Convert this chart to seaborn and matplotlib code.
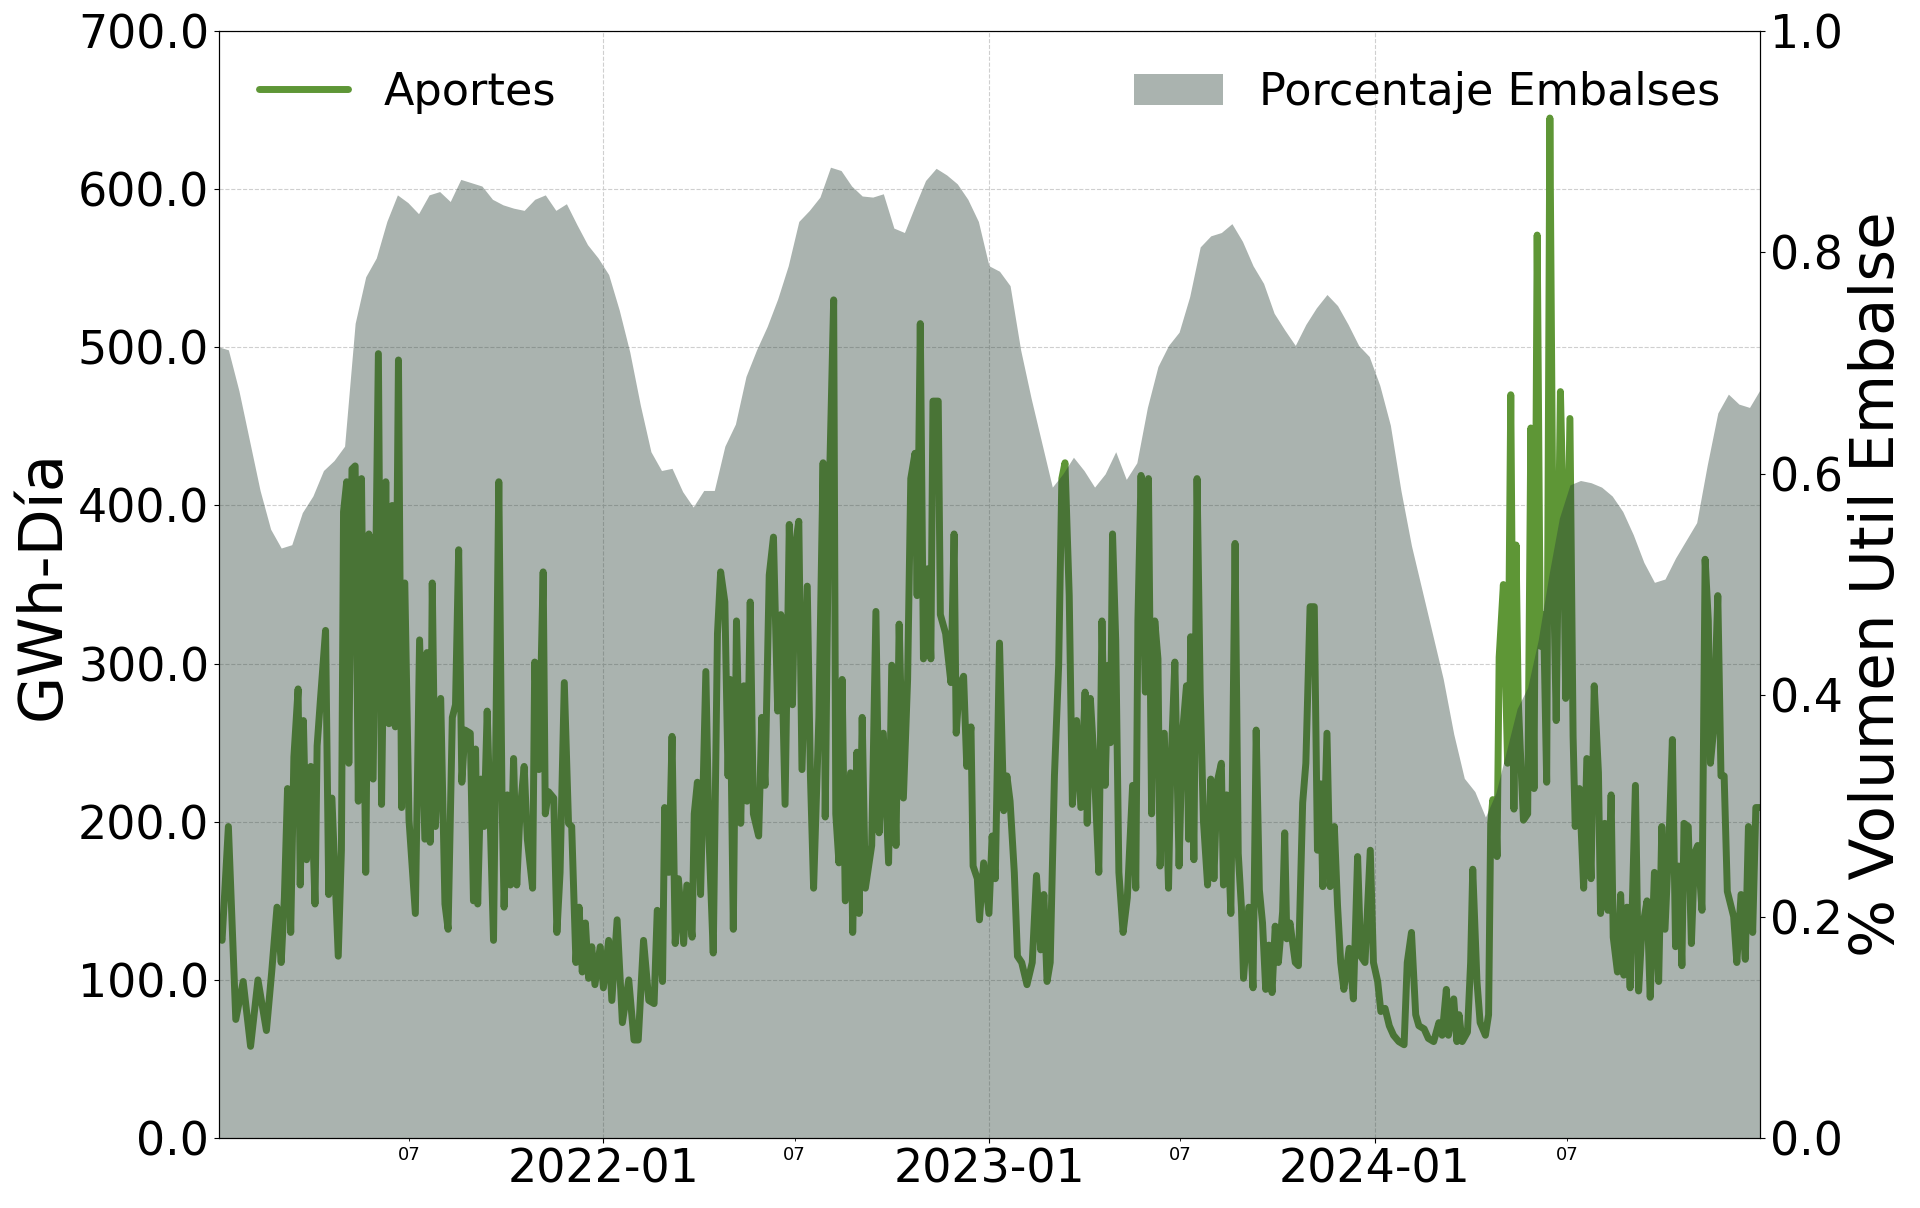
import matplotlib
matplotlib.use("Agg")
import matplotlib.pyplot as plt
import matplotlib.dates as mdates
from matplotlib.ticker import FormatStrFormatter, MultipleLocator
import seaborn as sns
import pandas as pd

inicio = pd.Timestamp("2021-01-01")

# aportes diarios (GWh-dia): dias desde 2021-01-01
dias_aportes = [
    1, 4, 10, 17, 24, 31, 38, 46, 51, 56, 60, 63, 66, 69, 72, 76, 78, 81, 84, 88,
    92, 94, 97, 102, 105, 108, 114, 117, 119, 122, 124, 127, 130, 133, 136, 140, 143, 147, 152, 155,
    159, 162, 165, 168, 171, 174, 177, 181, 187, 191, 196, 198, 201, 203, 206, 211, 215, 218, 222, 225,
    228, 231, 234, 239, 242, 244, 246, 249,
    252, 255, 258, 261, 266, 269, 271, 274, 277, 280, 283, 286, 290, 293, 298, 300, 304, 308, 310, 313,
    318, 321, 324, 328, 332, 335, 339, 342, 345, 348, 351, 354, 357, 362, 365, 370, 373, 378, 383, 389,
    394, 398, 403, 408, 413, 416, 421, 423, 427, 430, 433, 436, 441, 444, 449, 451, 454, 457, 462, 465,
    469, 473, 476, 480, 483, 485, 488, 491, 495,
    498, 501, 504, 507, 512, 515, 518, 522, 526, 530, 533, 537, 541, 544, 547, 550, 553, 558, 561, 564,
    569, 573, 575, 578, 583, 585, 588, 591, 594, 599, 601, 605, 607, 610, 613, 619, 623, 626, 630, 635,
    638, 642, 645, 649, 653, 656, 660, 662, 665, 668, 672, 675, 677, 682, 684, 689, 694, 697, 699, 702,
    706, 709, 713, 715, 719, 721, 725, 730, 733, 736,
    740, 744, 747, 750, 754, 757, 761, 766, 771, 775, 779, 782, 785, 788, 792, 796, 799, 802, 806, 809,
    813, 817, 821, 823, 826, 829, 834, 837, 840, 843, 845, 847, 850, 853, 857, 861, 866, 869, 871, 874,
    878, 881, 884, 887, 890, 892, 896, 900, 902, 906, 910, 913, 917, 919, 921, 924, 927, 930, 933, 937,
    940, 943, 946, 950, 952, 955, 959, 963, 966, 969, 971, 976, 980, 983,
    986, 989, 992, 995, 998, 1001, 1004, 1008, 1010, 1012, 1015, 1020, 1023, 1027, 1030, 1034, 1038, 1041, 1044, 1046,
    1050, 1053, 1057, 1060, 1063, 1066, 1071, 1075, 1079, 1082, 1086, 1091, 1094, 1098, 1101, 1105, 1109, 1113, 1118, 1123,
    1126, 1130, 1134, 1137, 1142, 1146, 1151, 1156, 1159, 1163, 1165, 1170, 1173, 1175, 1178, 1183, 1186, 1188, 1192, 1195,
    1200, 1203, 1205, 1207, 1210, 1211, 1213, 1217, 1221, 1224, 1227, 1229, 1231,
    1233, 1236, 1240, 1243, 1246, 1249, 1252, 1255, 1258, 1261, 1264, 1267, 1271, 1274, 1276, 1280, 1283, 1285, 1289, 1293,
    1296, 1300, 1303, 1307, 1309, 1313, 1316, 1319, 1321, 1325, 1328, 1331, 1334, 1337, 1342, 1345, 1348, 1353, 1356, 1360,
    1364, 1367, 1370, 1374, 1377, 1380, 1383, 1386, 1388, 1392, 1395, 1398, 1401, 1405, 1408, 1411, 1413, 1416, 1420, 1423,
    1426, 1429, 1432, 1435, 1438, 1442, 1446, 1449, 1453, 1456, 1460,
]
aportes_gwh = [
    131, 125, 197, 75, 99, 58, 100, 68, 105, 146, 111, 152, 221, 130, 241, 284, 160, 264, 176, 235,
    148, 248, 276, 321, 154, 215, 115, 182, 396, 415, 237, 423, 425, 213, 417, 168, 382, 227, 496, 211,
    415, 262, 400, 260, 492, 209, 351, 201, 142, 315, 189, 307, 187, 351, 197, 278, 148, 132, 266, 274,
    372, 225, 258, 256, 150, 246, 148, 227,
    197, 270, 197, 125, 415, 217, 146, 217, 160, 240, 160, 205, 235, 189, 158, 301, 233, 358, 205, 219,
    215, 130, 168, 288, 199, 197, 111, 146, 105, 136, 101, 121, 97, 121, 95, 125, 87, 138, 73, 100,
    62, 62, 125, 87, 85, 144, 99, 209, 168, 254, 123, 164, 123, 160, 127, 205, 225, 154, 295, 189,
    117, 319, 358, 339, 229, 290, 132, 327, 199,
    286, 213, 339, 205, 191, 266, 223, 356, 380, 270, 331, 211, 388, 274, 376, 390, 233, 349, 229, 158,
    266, 427, 203, 384, 530, 205, 174, 290, 150, 231, 130, 244, 142, 266, 158, 185, 333, 193, 256, 174,
    299, 185, 325, 215, 290, 417, 433, 343, 515, 303, 360, 303, 466, 466, 331, 319, 288, 382, 256, 286,
    292, 235, 260, 172, 164, 138, 174, 142, 191, 164,
    313, 207, 229, 213, 168, 115, 111, 97, 111, 166, 119, 154, 99, 111, 229, 299, 417, 427, 343, 211,
    264, 209, 282, 199, 278, 244, 168, 327, 223, 299, 250, 382, 315, 168, 130, 152, 223, 158, 327, 419,
    282, 417, 205, 327, 303, 172, 256, 158, 229, 301, 172, 254, 286, 189, 317, 176, 417, 282, 201, 160,
    227, 164, 225, 237, 160, 217, 142, 376, 180, 146, 101, 146, 95, 258,
    157, 136, 94, 122, 92, 134, 111, 143, 193, 126, 136, 111, 109, 212, 237, 336, 336, 182, 224, 159,
    256, 159, 197, 147, 111, 94, 120, 88, 178, 115, 111, 182, 111, 99, 80, 82, 71, 65, 61, 59,
    111, 130, 78, 71, 69, 63, 61, 73, 65, 94, 65, 88, 61, 78, 61, 67, 111, 170, 99, 73,
    65, 78, 199, 214, 203, 178, 304, 350, 237, 470, 208, 375, 278,
    246, 201, 205, 449, 221, 571, 311, 331, 225, 645, 372, 264, 472, 384, 278, 455, 254, 197, 221, 158,
    240, 164, 286, 231, 142, 199, 144, 217, 127, 105, 154, 103, 146, 95, 223, 93, 130, 150, 89, 168,
    99, 197, 132, 193, 252, 121, 172, 109, 199, 197, 123, 180, 185, 144, 366, 327, 237, 258, 343, 229,
    229, 156, 148, 140, 111, 154, 113, 197, 130, 209, 209,
]

# porcentaje de volumen util de embalses, un valor cada 10 dias desde 2021-01-01
embalse_pct = [
    0.715, 0.712, 0.675, 0.630, 0.585, 0.550, 0.533, 0.536, 0.565, 0.580,
    0.603, 0.612, 0.625, 0.736, 0.778, 0.795, 0.828, 0.852, 0.845, 0.835,
    0.852, 0.855, 0.846, 0.866, 0.863, 0.860, 0.848, 0.843, 0.840, 0.838,
    0.848, 0.852, 0.838, 0.844, 0.825, 0.807, 0.795, 0.780, 0.748, 0.710,
    0.662, 0.620, 0.603, 0.605, 0.584, 0.570, 0.585, 0.585, 0.625, 0.645,
    0.688, 0.712, 0.733, 0.758, 0.788, 0.828, 0.838, 0.850, 0.877, 0.874,
    0.860, 0.851, 0.850, 0.853, 0.822, 0.818, 0.842, 0.865, 0.876, 0.870,
    0.862, 0.848, 0.828, 0.788, 0.783, 0.770, 0.712, 0.668, 0.628, 0.588,
    0.600, 0.615, 0.603, 0.588, 0.600, 0.620, 0.595, 0.610, 0.660, 0.697,
    0.716, 0.728, 0.760, 0.805, 0.815, 0.818, 0.826, 0.810, 0.788, 0.772,
    0.745, 0.730, 0.716, 0.735, 0.750, 0.762, 0.752, 0.735, 0.716, 0.706,
    0.680, 0.644, 0.585, 0.535, 0.495, 0.455, 0.415, 0.365, 0.325, 0.313,
    0.290, 0.312, 0.350, 0.388, 0.407, 0.450, 0.508, 0.560, 0.590, 0.594,
    0.592, 0.588, 0.580, 0.566, 0.545, 0.520, 0.502, 0.505, 0.524, 0.540,
    0.556, 0.608, 0.655, 0.672, 0.663, 0.660, 0.676,
]

fechas_aportes = inicio + pd.to_timedelta(dias_aportes, unit="D")
fechas_embalse = pd.date_range(inicio, periods=len(embalse_pct), freq="10D")
df_aportes = pd.DataFrame({"fecha": fechas_aportes, "aportes": aportes_gwh})

sns.set_style("ticks")
plt.rcParams["font.family"] = ["DejaVu Sans"]
plt.rcParams["axes.edgecolor"] = "black"
plt.rcParams["axes.labelcolor"] = "black"
plt.rcParams["text.color"] = "black"
plt.rcParams["xtick.color"] = "black"
plt.rcParams["ytick.color"] = "black"

fig, ax1 = plt.subplots(figsize=(19.2, 12.08), dpi=100)
fig.subplots_adjust(left=0.114, right=0.9167, top=0.9743, bottom=0.0579)

sns.lineplot(data=df_aportes, x="fecha", y="aportes", ax=ax1,
             color="#5e9636", linewidth=5, label="Aportes")

ax2 = ax1.twinx()
ax2.fill_between(fechas_embalse, embalse_pct, color="#2b4137", alpha=0.4,
                 linewidth=0, label="Porcentaje Embalses")

# ejes
ax1.set_xlim(pd.Timestamp("2021-01-02"), pd.Timestamp("2024-12-31"))
ax1.set_ylim(0, 700)
ax2.set_ylim(0, 1)
ax1.yaxis.set_major_locator(MultipleLocator(100))
ax1.yaxis.set_major_formatter(FormatStrFormatter("%.1f"))
ax2.yaxis.set_major_locator(MultipleLocator(0.2))
ax2.yaxis.set_major_formatter(FormatStrFormatter("%.1f"))

ax1.xaxis.set_major_locator(mdates.YearLocator())
ax1.xaxis.set_major_formatter(mdates.DateFormatter("%Y-%m"))
ax1.xaxis.set_minor_locator(mdates.MonthLocator(bymonth=7))
ax1.xaxis.set_minor_formatter(mdates.DateFormatter("%m"))

ax1.tick_params(axis="both", which="major", labelsize=33, labelcolor="black")
ax1.tick_params(axis="x", which="minor", labelsize=13, labelcolor="black")
ax2.tick_params(axis="y", labelsize=33, labelcolor="black")

ax1.set_xlabel("")
ax1.set_ylabel("GWh-Día", fontsize=44, color="black")
ax2.set_ylabel("% Volumen Util Embalse", fontsize=44, color="black")

ax1.grid(True, which="major", linestyle="--", color="#cfcfcf", linewidth=0.8)

for ax in (ax1, ax2):
    for s in ax.spines.values():
        s.set_visible(True)
        s.set_color("black")

ax1.legend(loc="upper left", frameon=False, fontsize=32, labelcolor="black")
ax2.legend(loc="upper right", frameon=False, fontsize=32, labelcolor="black")

fig.savefig("out.png", dpi=100)
